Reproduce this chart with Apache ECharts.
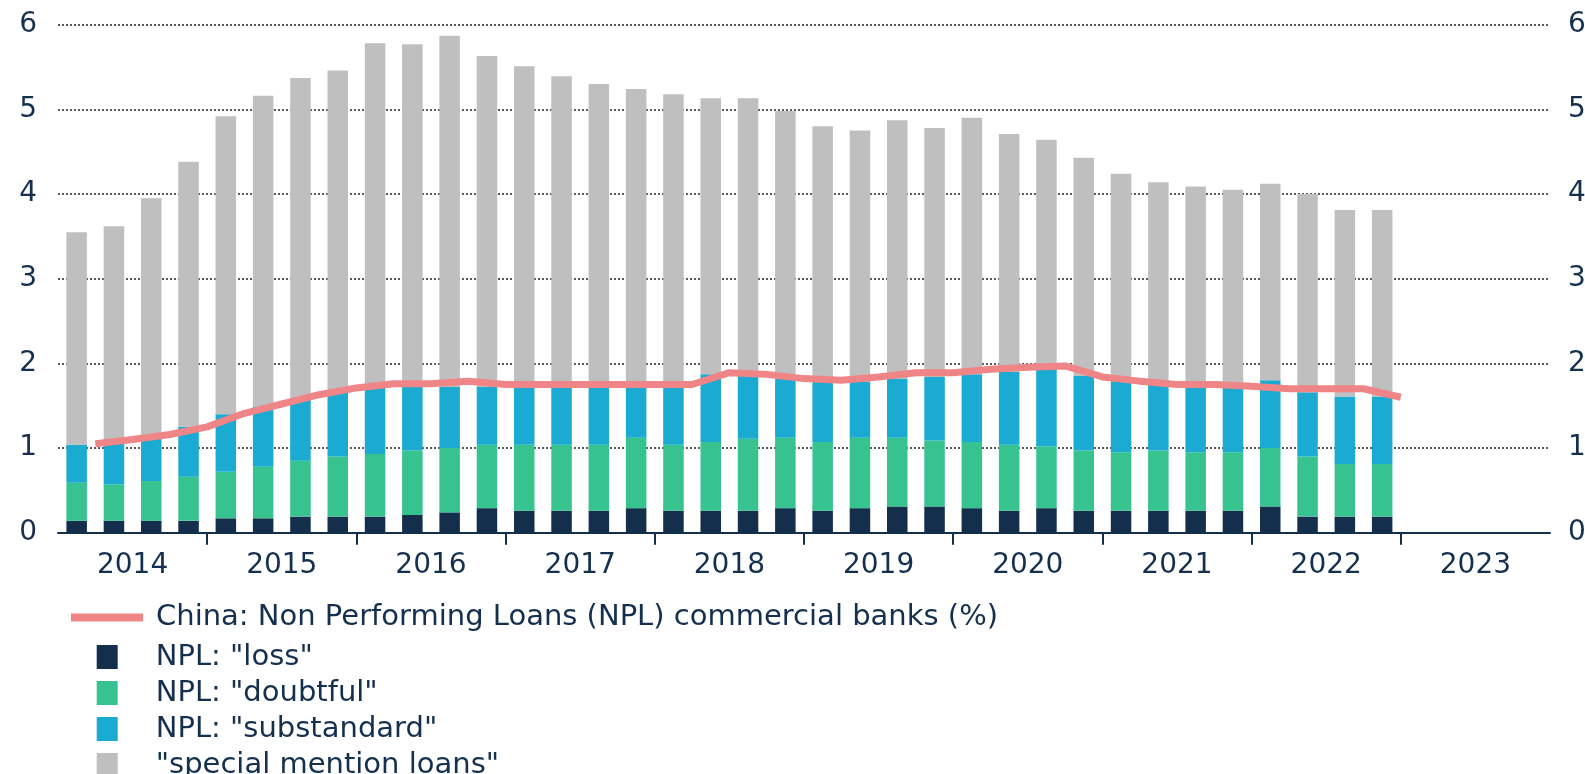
<!DOCTYPE html>
<html>
<head>
<meta charset="utf-8">
<script src="https://cdn.jsdelivr.net/npm/echarts@6/dist/echarts.min.js"></script>
<style>
html,body{margin:0;padding:0;background:#fff;}
#chart{width:1585px;height:774px;}
</style>
</head>
<body>
<div id="chart"></div>
<script>
// ---- data ----
const years = ['2014','2015','2016','2017','2018','2019','2020','2021','2022','2023'];
const quarterNames = ['Q1','Q2','Q3','Q4'];

// stacked bar segments, 2014Q1 .. 2022Q4 (%)
const lossValues = [0.14,0.14,0.14,0.14, 0.17,0.17,0.19,0.19, 0.19,0.21,0.24,0.29, 0.26,0.26,0.26,0.29,
  0.26,0.26,0.26,0.29, 0.26,0.29,0.31,0.31, 0.29,0.26,0.29,0.26, 0.26,0.26,0.26,0.26, 0.31,0.19,0.19,0.19];
const doubtfulValues = [0.45,0.43,0.47,0.52, 0.55,0.61,0.66,0.71, 0.74,0.76,0.76,0.75, 0.78,0.78,0.78,0.83,
  0.78,0.81,0.85,0.83, 0.81,0.83,0.81,0.78, 0.78,0.78,0.73,0.71, 0.69,0.71,0.69,0.69, 0.69,0.71,0.62,0.62];
const substandardValues = [0.45,0.50,0.54,0.59, 0.68,0.71,0.74,0.78, 0.83,0.75,0.72,0.68, 0.68,0.68,0.68,0.61,
  0.68,0.80,0.74,0.70, 0.71,0.66,0.70,0.75, 0.80,0.86,0.91,0.88, 0.84,0.78,0.78,0.76, 0.80,0.76,0.80,0.80];
const specialMentionValues = [2.51,2.55,2.80,3.13, 3.52,3.67,3.78,3.78, 4.02,4.05,4.15,3.91, 3.79,3.67,3.58,3.51,
  3.46,3.26,3.28,3.16, 3.02,2.97,3.05,2.94, 3.03,2.81,2.71,2.58, 2.45,2.39,2.36,2.34, 2.32,2.34,2.20,2.20];
// line: NPL ratio, end of each quarter
const nplRatioValues = [1.05,1.10,1.16,1.25, 1.41,1.52,1.63,1.71, 1.76,1.76,1.79,1.75, 1.75,1.75,1.75,1.75,
  1.75,1.89,1.87,1.82, 1.80,1.84,1.89,1.89, 1.93,1.955,1.97,1.84, 1.79,1.75,1.75,1.73, 1.70,1.70,1.70,1.60];

const seriesNames = {
  line: 'China: Non Performing Loans (NPL) commercial banks (%)',
  loss: 'NPL: "loss"',
  doubtful: 'NPL: "doubtful"',
  substandard: 'NPL: "substandard"',
  special: '"special mention loans"'
};

// ---- derived axis categories ----
const quarters = [];
years.forEach(y => quarterNames.forEach(q => quarters.push(y + q)));
const boundaries = [];
for (let i = 0; i <= quarters.length; i++) boundaries.push('b' + i);
const lineData = ['-'].concat(nplRatioValues);

const NAVY = '#132f4c';
const TEXT = '#15304e';
const FONT = 'DejaVu Sans';

const chart = echarts.init(document.getElementById('chart'), null, {renderer: 'canvas'});
const option = {
  animation: false,
  backgroundColor: '#fff',
  grid: {left: 58, right: 35, top: 24.7, bottom: 241.3, containLabel: false, outerBoundsMode: 'none'},
  legend: [
    {
      data: [seriesNames.line],
      orient: 'vertical', left: 71, top: 603, padding: 0, height: 300,
      itemWidth: 72, itemHeight: 8, icon: 'rect',
      textStyle: {fontFamily: FONT, fontSize: 29, color: TEXT, lineHeight: 24, padding: [0,0,3,8]}
    },
    {
      data: [seriesNames.loss, seriesNames.doubtful, seriesNames.substandard, seriesNames.special],
      orient: 'vertical', left: 96.7, top: 639, padding: 0, itemGap: 0, height: 400,
      itemWidth: 21, itemHeight: 24, icon: 'rect',
      textStyle: {fontFamily: FONT, fontSize: 29, color: TEXT, lineHeight: 24, padding: [0,0,12,33]}
    }
  ],
  xAxis: [
    {
      type: 'category', data: quarters, position: 'bottom', show: false, boundaryGap: true
    },
    {
      type: 'category', data: boundaries, position: 'bottom', boundaryGap: false,
      axisLine: {show: true, lineStyle: {color: NAVY, width: 2}},
      axisTick: {show: true, length: 12, lineStyle: {color: NAVY, width: 2},
        interval: (i) => i % 4 === 0 && i > 0 && i < quarters.length},
      axisLabel: {show: true, margin: 19, fontFamily: FONT, fontSize: 28, color: TEXT,
        interval: (i) => i % 4 === 2,
        formatter: (v, i) => (i % 4 === 2 ? years[(i - 2) / 4] : '')},
      splitLine: {show: false}
    }
  ],
  yAxis: [
    {
      type: 'value', position: 'left', min: 0, max: 6, interval: 1,
      axisLine: {show: false}, axisTick: {show: false},
      axisLabel: {margin: 21, fontFamily: FONT, fontSize: 28, color: TEXT},
      splitLine: {show: true, lineStyle: {color: '#5a5a5a', width: 2, type: [2, 2]}}
    },
    {
      type: 'value', position: 'right', min: 0, max: 6, interval: 1,
      axisLine: {show: false}, axisTick: {show: false},
      axisLabel: {margin: 18, fontFamily: FONT, fontSize: 28, color: TEXT},
      splitLine: {show: false}
    }
  ],
  series: [
    {name: seriesNames.loss, type: 'bar', stack: 'npl', xAxisIndex: 0, yAxisIndex: 0,
     barWidth: '55%', itemStyle: {color: '#132f4c'}, data: lossValues},
    {name: seriesNames.doubtful, type: 'bar', stack: 'npl', xAxisIndex: 0, yAxisIndex: 0,
     barWidth: '55%', itemStyle: {color: '#37c390'}, data: doubtfulValues},
    {name: seriesNames.substandard, type: 'bar', stack: 'npl', xAxisIndex: 0, yAxisIndex: 0,
     barWidth: '55%', itemStyle: {color: '#1aaad2'}, data: substandardValues},
    {name: seriesNames.special, type: 'bar', stack: 'npl', xAxisIndex: 0, yAxisIndex: 0,
     barWidth: '55%', itemStyle: {color: '#bfbfbf'}, data: specialMentionValues},
    {name: seriesNames.line, type: 'line', xAxisIndex: 1, yAxisIndex: 0, z: 5,
     symbol: 'none', showSymbol: false, itemStyle: {color: '#f08587'},
     lineStyle: {color: '#f08587', width: 7, cap: 'butt', join: 'round'}, data: lineData}
  ]
};
chart.setOption(option);
</script>
</body>
</html>
